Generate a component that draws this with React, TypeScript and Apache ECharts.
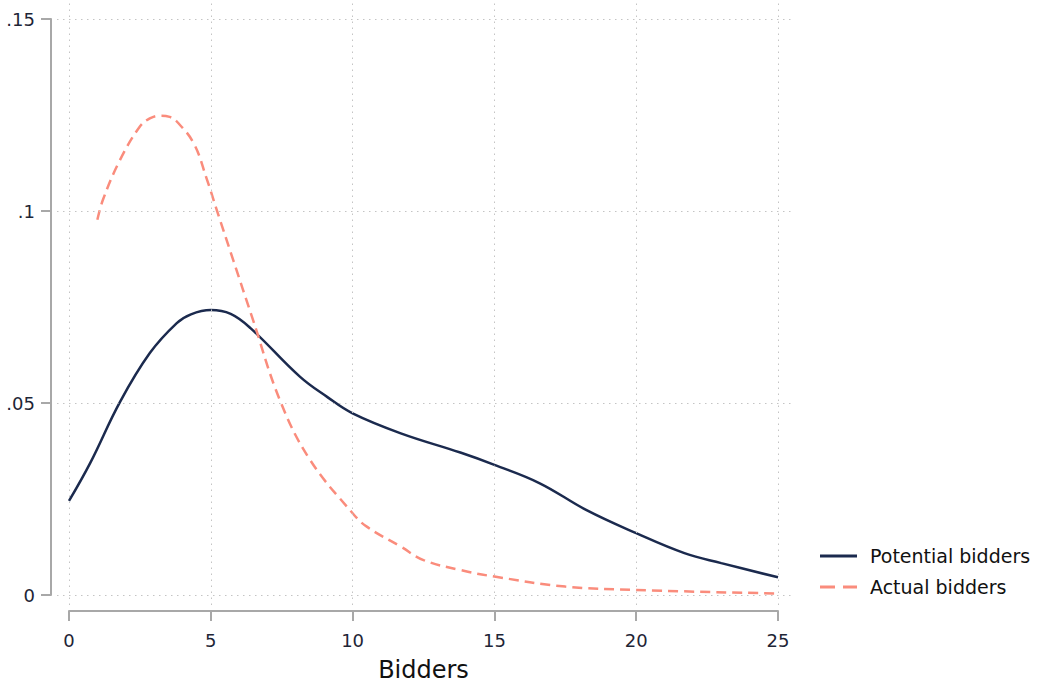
import React, { useEffect, useRef } from "react";
import * as echarts from "echarts";

const xTicks = [0, 5, 10, 15, 20, 25];
const yTicks = [0, 0.05, 0.1, 0.15];
const seriesNames = ["Potential bidders", "Actual bidders"];
const xTitle = "Bidders";

const potentialX = [0, 0.75, 1.8, 2.85, 3.8, 4.3, 5, 5.7, 6.4, 8.15, 9.1, 10, 11.7, 13.8, 15, 16.6, 18.25, 20, 21.7, 23, 25];
const potentialY = [0.0245, 0.0344, 0.0503, 0.063, 0.0708, 0.0731, 0.0742, 0.0732, 0.0695, 0.0568, 0.0516, 0.0473, 0.0421, 0.0371, 0.0339, 0.0291, 0.0221, 0.0161, 0.0109, 0.0083, 0.0046];

const actualX = [1, 1.2, 1.8, 2.5, 2.85, 3.2, 3.55, 3.8, 4.4, 4.85, 5.2, 5.8, 6.45, 7.45, 8.5, 10, 10.5, 11.7, 12.5, 13.8, 15, 17.5, 20, 25];
const actualY = [0.0977, 0.103, 0.1133, 0.122, 0.1241, 0.1248, 0.1245, 0.1233, 0.1176, 0.1085, 0.1005, 0.087, 0.0725, 0.0505, 0.0352, 0.0213, 0.0178, 0.0126, 0.0091, 0.0065, 0.0048, 0.0022, 0.0013, 0.0004];

const FONT = "DejaVu Sans";
const NAVY = "#1b2a4e";
const SALMON = "#fa8c7c";
const AXIS = "#a8a8a8";
const TEXT = "#1e2536";

export default function App() {
  const ref = useRef<HTMLDivElement>(null);

  useEffect(() => {
    const chart = echarts.init(ref.current!, null, { renderer: "svg" });

    // plot area (data range) and extended gridline area, in pixels
    const L = 69, R = 778, T = 19, B = 595;
    const gL = 57, gR = 793, gT = 3, gB = 605;
    const xMin = xTicks[0], xMax = xTicks[xTicks.length - 1];
    const yMin = yTicks[0], yMax = yTicks[yTicks.length - 1];
    const kx = (xMax - xMin) / (R - L);
    const ky = (yMax - yMin) / (B - T);
    const gxMin = xMin - (L - gL) * kx;
    const gxMax = xMax + (gR - R) * kx;
    const gyMin = yMin - (gB - B) * ky;
    const gyMax = yMax + (T - gT) * ky;
    const eps = 1e-9;

    const gridLines: any[] = [
      ...yTicks.map((v) => [{ coord: [gxMin + eps, v] }, { coord: [gxMax - eps, v] }]),
      ...xTicks.map((v) => [{ coord: [v, gyMin + eps] }, { coord: [v, gyMax - eps] }]),
    ];

    const fmtY = (v: number) => {
      const r = Math.round(v * 1000) / 1000;
      if (r === 0) return "0";
      return String(r).replace(/^0\./, ".");
    };

    chart.setOption({
      animation: false,
      backgroundColor: "#ffffff",
      grid: [
        { left: gL, top: gT, width: gR - gL, height: gB - gT, containLabel: false, outerBoundsMode: "none" },
        { left: L, top: T, width: R - L, height: B - T, containLabel: false, outerBoundsMode: "none" },
      ],
      xAxis: [
        { type: "value", gridIndex: 0, min: gxMin, max: gxMax, show: false },
        {
          type: "value",
          gridIndex: 1,
          min: xMin,
          max: xMax,
          interval: 5,
          offset: 16,
          axisLine: { show: true, onZero: false, lineStyle: { color: AXIS, width: 2 } },
          axisTick: { show: true, length: 10, inside: false, lineStyle: { color: AXIS, width: 2 } },
          axisLabel: { show: true, fontSize: 18, color: TEXT, margin: 20, fontFamily: FONT },
          splitLine: { show: false },
          name: xTitle,
          nameLocation: "middle",
          nameGap: 47,
          nameTextStyle: { fontSize: 24, color: "#111111", fontFamily: FONT },
        },
      ],
      yAxis: [
        { type: "value", gridIndex: 0, min: gyMin, max: gyMax, show: false },
        {
          type: "value",
          gridIndex: 1,
          min: yMin,
          max: yMax,
          interval: 0.05,
          offset: 18,
          axisLine: { show: true, onZero: false, lineStyle: { color: AXIS, width: 2 } },
          axisTick: { show: true, length: 10, inside: false, lineStyle: { color: AXIS, width: 2 } },
          axisLabel: { show: true, fontSize: 18, color: TEXT, margin: 16, fontFamily: FONT, formatter: fmtY },
          splitLine: { show: false },
        },
      ],
      legend: {
        data: [
          { name: seriesNames[0], icon: "path://M0,0h37v3h-37z", itemStyle: { color: NAVY, opacity: 1 } },
          { name: seriesNames[1], icon: "path://M0,0h15v3h-15z M23,0h14v3h-14z", itemStyle: { color: SALMON, opacity: 1 } },
        ],
        orient: "vertical",
        left: 815,
        top: 541,
        itemWidth: 37,
        itemHeight: 3,
        symbolKeepAspect: false,
        itemGap: 11,
        textStyle: { fontSize: 19, color: "#111111", fontFamily: FONT, lineHeight: 20, padding: [0, 0, 0, 8] },
        selectedMode: false,
      },
      series: [
        {
          type: "line",
          xAxisIndex: 0,
          yAxisIndex: 0,
          data: [],
          silent: true,
          markLine: {
            silent: true,
            symbol: ["none", "none"],
            label: { show: false },
            emphasis: { disabled: true },
            lineStyle: { color: "#c4c4c4", type: [1.5, 4.5], width: 1 },
            data: gridLines,
          },
        },
        {
          name: seriesNames[0],
          type: "line",
          xAxisIndex: 1,
          yAxisIndex: 1,
          data: potentialX.map((x, i) => [x, potentialY[i]]),
          showSymbol: false,
          symbol: "none",
          smooth: 0.4,
          clip: false,
          lineStyle: { color: NAVY, width: 2.5 },
          itemStyle: { color: NAVY },
          z: 3,
        },
        {
          name: seriesNames[1],
          type: "line",
          xAxisIndex: 1,
          yAxisIndex: 1,
          data: actualX.map((x, i) => [x, actualY[i]]),
          showSymbol: false,
          symbol: "none",
          smooth: 0.4,
          clip: false,
          lineStyle: { color: SALMON, width: 2.5, type: [10, 6] },
          itemStyle: { color: SALMON },
          z: 4,
        },
      ],
    });

    return () => chart.dispose();
  }, []);

  return (
    <div
      ref={ref}
      style={{ position: "fixed", left: 0, top: 0, width: 1041, height: 686, background: "#fff" }}
    />
  );
}
